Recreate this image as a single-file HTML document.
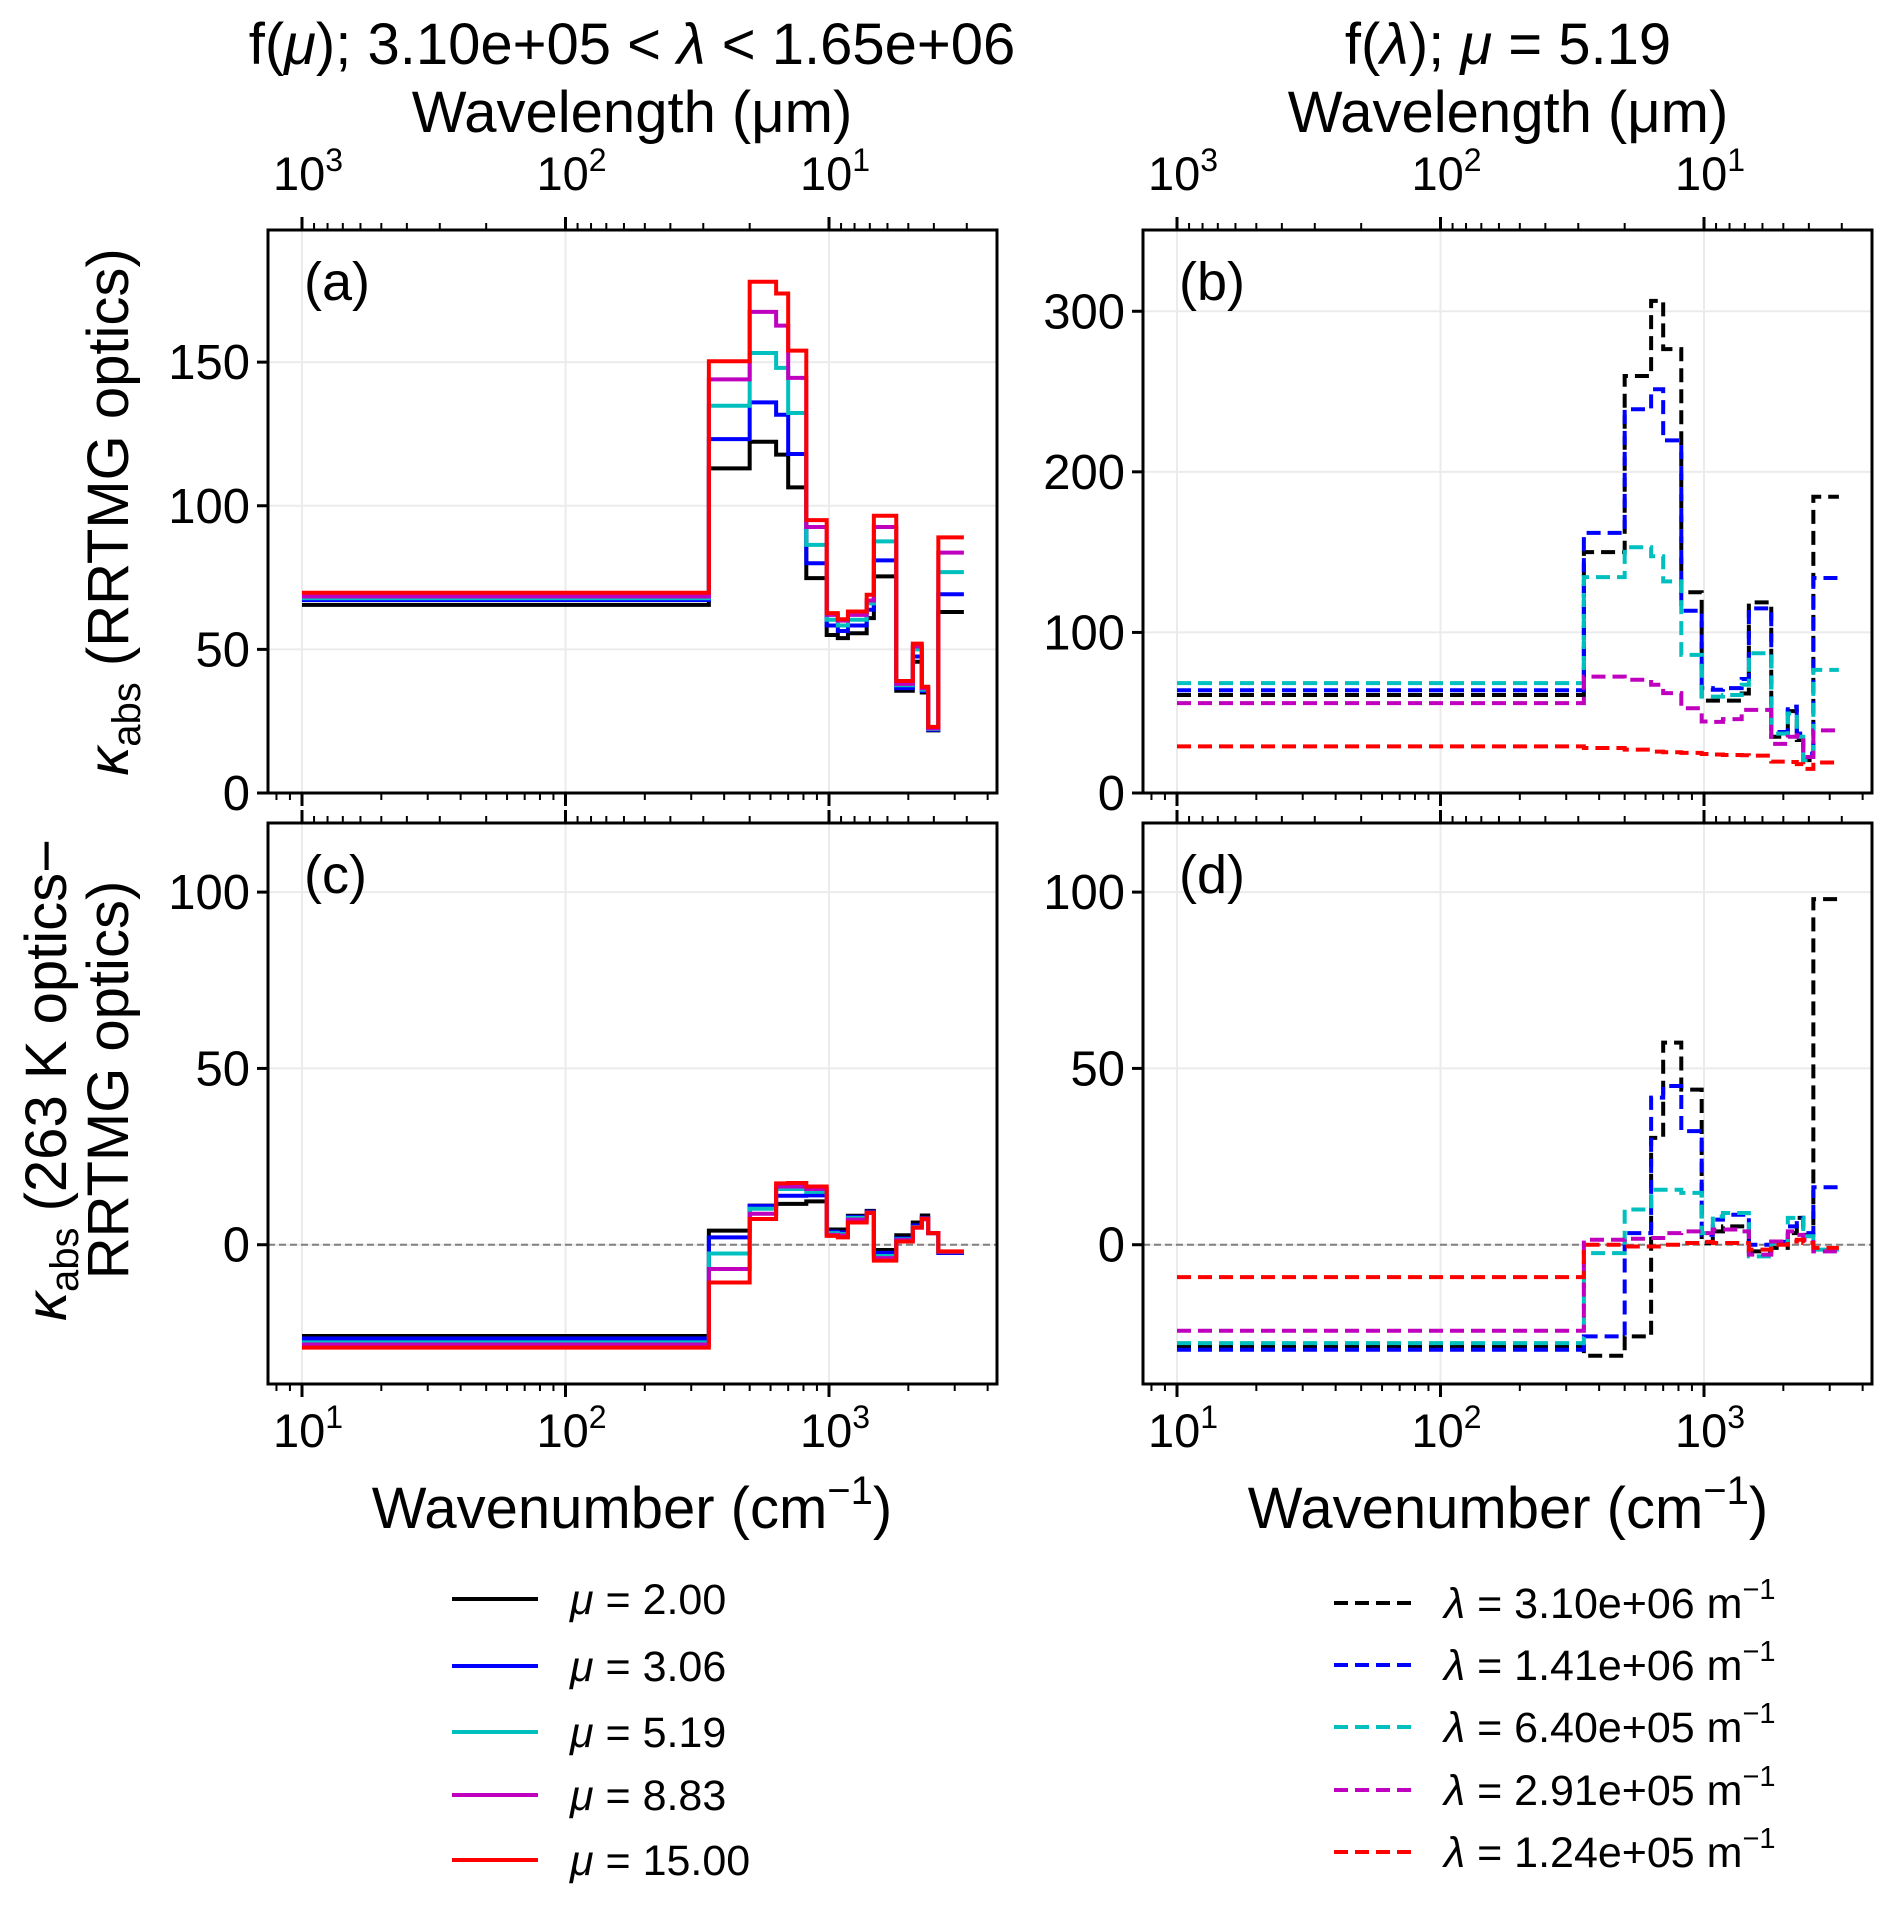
<!DOCTYPE html>
<html><head><meta charset="utf-8">
<style>
html,body{margin:0;padding:0;background:#fff;}
svg{display:block;font-family:"Liberation Sans",sans-serif;}
</style></head>
<body>
<svg id="fig" width="1892" height="1912" viewBox="0 0 1892 1912" xmlns="http://www.w3.org/2000/svg">
<rect x="0" y="0" width="1892" height="1912" fill="#fff"/>
<text x="632" y="64" font-size="58" text-anchor="middle">f(<tspan font-style="italic">μ</tspan>); 3.10e+05 &lt; <tspan font-style="italic">λ</tspan> &lt; 1.65e+06</text>
<text x="1508" y="64" font-size="58" text-anchor="middle">f(<tspan font-style="italic">λ</tspan>); <tspan font-style="italic">μ</tspan> = 5.19</text>
<text x="632" y="132" font-size="58" text-anchor="middle">Wavelength (μm)</text>
<text x="1508" y="132" font-size="58" text-anchor="middle">Wavelength (μm)</text>
<text x="632" y="1528" font-size="58" text-anchor="middle">Wavenumber (cm<tspan font-size="40" dy="-24">−1</tspan><tspan dy="24">)</tspan></text>
<text x="1508" y="1528" font-size="58" text-anchor="middle">Wavenumber (cm<tspan font-size="40" dy="-24">−1</tspan><tspan dy="24">)</tspan></text>
<text transform="translate(128,512) rotate(-90)" font-size="58" text-anchor="middle"><tspan font-style="italic">κ</tspan><tspan font-size="40" dy="12">abs</tspan><tspan dy="-12"> (RRTMG optics)</tspan></text>
<text transform="translate(66,1080) rotate(-90)" font-size="58" text-anchor="middle"><tspan font-style="italic">κ</tspan><tspan font-size="40" dy="12">abs</tspan><tspan dy="-12"> (263 K optics−</tspan></text>
<text transform="translate(128,1080) rotate(-90)" font-size="58" text-anchor="middle">RRTMG optics)</text>
<g id="plots"></g>
<g id="legends"></g>
</svg>
<script>
// RRTMG band edges (cm^-1)
const edges = [10,350,500,630,700,820,980,1080,1180,1390,1480,1800,2080,2250,2380,2600,3250];
// panel (a): kabs RRTMG vs mu
const aMu200 = [65.5,113,122.3,117.8,106.4,74.8,55,53.9,55.6,60.9,75.4,35.6,45.7,35,21.8,63];
const aMu306 = [67.2,123.2,136,131.7,118,80,58.3,56.4,58.3,63.8,81,36.5,47.5,35.5,22,69.2];
const aMu519 = [67.8,134.8,153.2,148,132.3,86.4,60.3,58.3,60.3,66,87.6,37.5,50,36,22.3,76.9];
const aMu883 = [68.4,144,167.5,162.7,144.5,92.6,62,60,62,67,92.6,38,51,36.5,22.5,83.7];
const aMu1500 = [69.7,150.3,178,173.9,154,95,62.6,60.5,63.2,69,96.5,39,52,37,23,89];
// panel (b): kabs RRTMG vs lambda
const bL310e6 = [61,150,259.7,306.5,276.4,125,57.5,57.5,57.5,62,118.7,35,51,33,20.5,184.5];
const bL141e6 = [64,162,239,251.4,219.6,113.5,65.3,64.3,65.3,71,115,38,53.8,37,24.5,133.9];
const bL640e5 = [68.4,134.4,153,147.4,131.8,86,60,60,61,67.4,87,37,49.5,35,20.5,76.7];
const bL291e5 = [56,72.5,70.5,67.4,62.2,52.8,44.5,44.3,46,51.8,51.8,30.6,35,36,22.4,39];
const bL124e5 = [29,28,27,25.8,25.4,25,24.3,24,23.7,23.5,23.3,19.5,19.3,18,15,19];
// panel (c): difference vs mu
const cMu200 = [-25.9,4,11.1,11.6,11.6,12.3,4.3,4.3,8.2,9.6,-1.5,2.7,6.3,8.3,3.3,-2.3];
const cMu306 = [-26.6,2.1,11,13.9,13.9,14,3.7,3.5,7.9,9.4,-2.3,1.8,5.5,7.6,3.3,-2.3];
const cMu519 = [-27.7,-2.5,10.2,15.8,15.8,15,3.3,3,7.6,9.1,-3.2,1.5,5,7.4,3.3,-2];
const cMu883 = [-28.3,-6.9,8.8,16.5,16.5,15.8,2.8,2.6,7.1,9,-3.8,1.3,4.8,7.2,3.3,-2];
const cMu1500 = [-29.2,-10.7,7.3,17.4,17.5,16.5,2.5,2.1,6.3,9.1,-4.5,0.9,4.9,7.4,3.3,-1.9];
// panel (d): difference vs lambda
const dL310e6 = [-29,-31.5,-26,30.3,57.3,44,0.5,3.8,5.2,5.2,-1.9,-0.9,3.3,7.6,2.8,98];
const dL141e6 = [-29.8,-26,3.3,41.7,45,32.2,2.8,7.1,8.5,8.5,0,0.8,5.2,7.6,3.3,16.3];
const dL640e5 = [-27.9,-2.4,10,15.6,15.6,14.7,3.3,8,9,9,-3.3,0.5,7.6,7.6,2.4,-1.4];
const dL291e5 = [-24.4,1.4,1.7,1.9,3.3,3.8,3.3,4.3,4.3,3.8,-2.8,0.9,3.8,2.8,1.4,-1.9];
const dL124e5 = [-9.2,0,-0.5,-0.5,0,0.5,0.8,0.5,0.5,0.5,-1.4,0,0.9,1.4,0.5,-0.9];

const muLabels = ["2.00","3.06","5.19","8.83","15.00"];
const lamLabels = ["3.10e+06","1.41e+06","6.40e+05","2.91e+05","1.24e+05"];
const colors = ["#000000","#0000ff","#00bfbf","#bf00bf","#ff0000"];
const yTicksA = [0,50,100,150];
const yTicksB = [0,100,200,300];
const yTicksCD = [0,50,100];

const NS = "http://www.w3.org/2000/svg";
const plots = document.getElementById('plots');
function el(tag, attrs, parent){
  const e = document.createElementNS(NS, tag);
  for (const k in attrs) e.setAttribute(k, attrs[k]);
  (parent||plots).appendChild(e);
  return e;
}
const W = 729, DEC = 263.5, OFF = 34;
function makeX(left){ return wn => left + OFF + DEC*(Math.log10(wn) - 1); }
function makeY(top, h, ymin, ymax){ return v => top + h - (v - ymin)/(ymax - ymin)*h; }

const panels = [
  {id:'a', left:268, top:230, h:563, ymin:0, ymax:196, ticks:yTicksA, series:[aMu200,aMu306,aMu519,aMu883,aMu1500], dash:false, topLabels:true, botLabels:false, zero:false},
  {id:'b', left:1143, top:230, h:563, ymin:0, ymax:350.6, ticks:yTicksB, series:[bL310e6,bL141e6,bL640e5,bL291e5,bL124e5], dash:true, topLabels:true, botLabels:false, zero:false},
  {id:'c', left:268, top:823, h:561, ymin:-39.5, ymax:119.6, ticks:yTicksCD, series:[cMu200,cMu306,cMu519,cMu883,cMu1500], dash:false, topLabels:false, botLabels:true, zero:true},
  {id:'d', left:1143, top:823, h:561, ymin:-39.5, ymax:119.6, ticks:yTicksCD, series:[dL310e6,dL141e6,dL640e5,dL291e5,dL124e5], dash:true, topLabels:false, botLabels:true, zero:true}
];

panels.forEach(p => {
  const g = el('g', {});
  
  
  const X = makeX(p.left), Y = makeY(p.top, p.h, p.ymin, p.ymax);
  const bottom = p.top + p.h, right = p.left + W;
  [10,100,1000].forEach(m => {
    const gl = el('line', {x1:X(m), x2:X(m), y1:p.top, y2:bottom, stroke:'#ebebeb', 'stroke-width':2}, g);
    
    
  });
  p.ticks.forEach(t => {
    const gl = el('line', {x1:p.left, x2:right, y1:Y(t), y2:Y(t), stroke:'#ebebeb', 'stroke-width':2}, g);
    
    
  });
  if (p.zero){
    const z = el('line', {x1:p.left, x2:right, y1:Y(0), y2:Y(0), stroke:'#808080', 'stroke-width':2, 'stroke-dasharray':'7,4'}, g);
    
    
  }
  p.series.forEach((vals, i) => {
    let d = 'M' + X(edges[0]) + ' ' + Y(vals[0]);
    for (let k = 0; k < vals.length; k++){
      if (k > 0) d += ' V' + Y(vals[k]);
      d += ' H' + X(edges[k+1]);
    }
    const path = el('path', {d:d, fill:'none', stroke:colors[i], 'stroke-width':4, 'stroke-linejoin':'miter'}, g);
    if (p.dash) path.setAttribute('stroke-dasharray', '14,7');
    
    
  });
  const fr = el('rect', {x:p.left, y:p.top, width:W, height:p.h, fill:'none', stroke:'#000', 'stroke-width':3}, g);
  
  
  p.ticks.forEach(t => {
    el('line', {x1:p.left-11, x2:p.left, y1:Y(t), y2:Y(t), stroke:'#000', 'stroke-width':3}, g);
    const tx = el('text', {x:p.left-18, y:Y(t)+17, 'font-size':49, 'text-anchor':'end'}, g);
    tx.textContent = t;
    
    
  });
  for (let dec = 1; dec <= 1000; dec *= 10){
    for (let m = 1; m <= 9; m++){
      const x = X(dec*m);
      if (x < p.left || x > right) continue;
      const len = m === 1 ? 13 : 7;
      el('line', {x1:x, x2:x, y1:bottom, y2:bottom+len, stroke:'#000', 'stroke-width':m===1?3:2}, g);
    }
  }
  for (let dec = 1; dec <= 1000; dec *= 10){
    for (let m = 1; m <= 9; m++){
      const x = X(1e4/(dec*m));
      if (x < p.left || x > right) continue;
      const len = m === 1 ? 13 : 7;
      el('line', {x1:x, x2:x, y1:p.top, y2:p.top-len, stroke:'#000', 'stroke-width':m===1?3:2}, g);
    }
  }
  if (p.topLabels){
    [[10,'3'],[100,'2'],[1000,'1']].forEach(([wn,e]) => {
      const tx = el('text', {x:X(wn)+6, y:190, 'font-size':47, 'text-anchor':'middle'}, g);
      tx.innerHTML = '10<tspan font-size="32" dy="-19">' + e + '</tspan>';
      
      
    });
  }
  if (p.botLabels){
    [[10,'1'],[100,'2'],[1000,'3']].forEach(([wn,e]) => {
      const tx = el('text', {x:X(wn)+6, y:1447, 'font-size':47, 'text-anchor':'middle'}, g);
      tx.innerHTML = '10<tspan font-size="32" dy="-19">' + e + '</tspan>';
      
      
    });
  }
  const lab = el('text', {x:p.left+36, y:p.top+70, 'font-size':54}, g);
  lab.textContent = '(' + p.id + ')';
  
  
});

const lg = document.getElementById('legends');
const rowsY = [1599,1666,1732,1795,1860];
muLabels.forEach((s, i) => {
  const y = rowsY[i];
  const ln = el('line', {x1:452, x2:538, y1:y, y2:y, stroke:colors[i], 'stroke-width':4}, lg);
  
  
  const tx = el('text', {x:570, y:y+15, 'font-size':43}, lg);
  tx.setAttribute('xml:space', 'preserve');
  tx.innerHTML = '<tspan font-style="italic">μ</tspan> =  ' + s;
  
  
});
const rowsY2 = [1603,1665,1727,1790,1852];
lamLabels.forEach((s, i) => {
  const y = rowsY2[i];
  const ln = el('line', {x1:1334, x2:1418, y1:y, y2:y, stroke:colors[i], 'stroke-width':4, 'stroke-dasharray':'14,7'}, lg);
  
  
  const tx = el('text', {x:1444, y:y+15, 'font-size':43}, lg);
  tx.innerHTML = '<tspan font-style="italic">λ</tspan> = ' + s + ' m<tspan font-size="29" dy="-19">−1</tspan>';
  
  
});
</script>
</body></html>
